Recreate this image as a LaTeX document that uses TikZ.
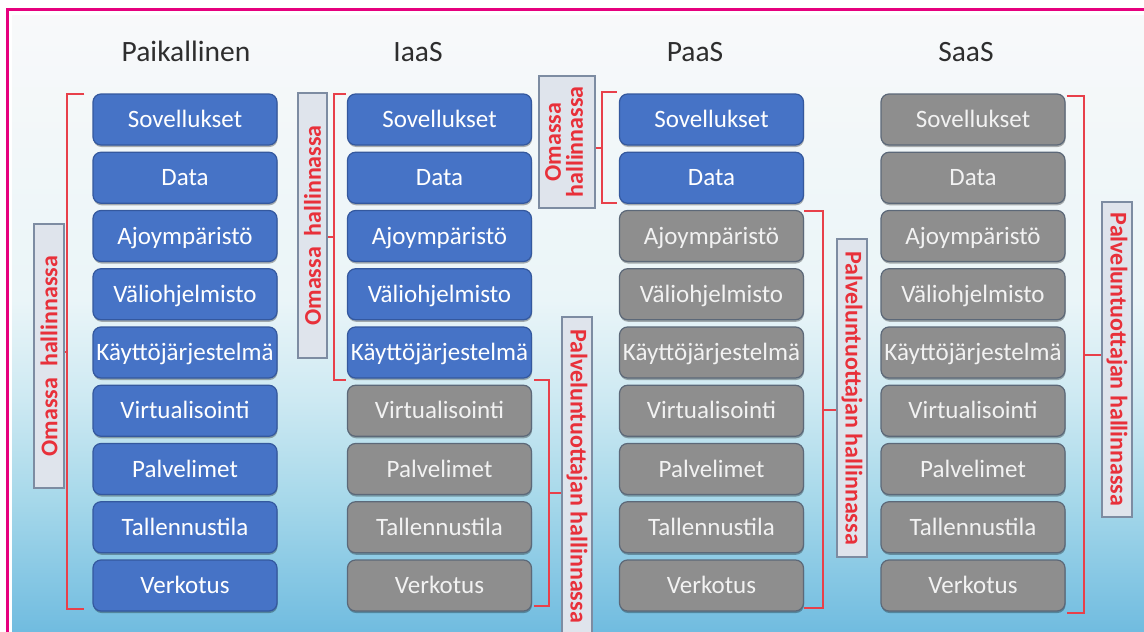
\documentclass[tikz,border=0pt]{standalone}
\usepackage{fontspec}
\setmainfont{Carlito}
\usetikzlibrary{calc,shadows}
\definecolor{boxblue}{HTML}{4673C6}
\definecolor{boxblueedge}{HTML}{34589E}
\definecolor{boxgray}{HTML}{8E8E8E}
\definecolor{boxgrayedge}{HTML}{5C6878}
\definecolor{boxgraytext}{HTML}{F2F2F2}
\definecolor{lblfill}{HTML}{DFE4EC}
\definecolor{lbledge}{HTML}{7D8CA2}
\definecolor{lblred}{HTML}{E8303A}
\definecolor{brkred}{HTML}{E8404A}
\definecolor{titlegray}{HTML}{2E2E2E}
\definecolor{framemag}{HTML}{E6007E}
\definecolor{bgA}{HTML}{6DBADF}
\definecolor{bgB}{HTML}{A6D8EA}
\definecolor{bgC}{HTML}{CDE9F2}
\definecolor{bgD}{HTML}{EAF5F8}
\definecolor{bgE}{HTML}{F8F9FA}
\tikzset{
  cbox/.style={rounded corners=8pt, minimum width=184pt, minimum height=51pt,
    inner sep=0pt, font=\fontsize{25}{28}\selectfont, text height=17pt, text depth=1pt,
    line width=1.2pt, drop shadow={shadow xshift=0.5pt, shadow yshift=-2pt, fill=black, opacity=0.3}},
  own/.style={cbox, fill=boxblue, draw=boxblueedge, text=white},
  prov/.style={cbox, fill=boxgray, draw=boxgrayedge, text=boxgraytext},
  colb/.code={\ifnum#1<5 \tikzset{own}\else\tikzset{prov}\fi},
  colc/.code={\ifnum#1<2 \tikzset{own}\else\tikzset{prov}\fi},
  lbl/.style={fill=lblfill, draw=lbledge, line width=1.5pt, inner sep=0pt, text=lblred,
    font=\bfseries\fontsize{24}{24}\selectfont},
  brk/.style={draw=brkred, line width=2pt},
  ttl/.style={font=\fontsize{29.5}{31}\selectfont, text=titlegray, anchor=base},
}
\begin{document}
\begin{tikzpicture}[x=1pt,y=-1pt]
\useasboundingbox (0,0) rectangle (1144,632);
\fill[white] (-2,-2) rectangle (1150,640);
% background gradient
\shade[top color=bgE, bottom color=bgD] (12,15) rectangle (1150,300.5);
\shade[top color=bgD, bottom color=bgC] (12,300) rectangle (1150,400.5);
\shade[top color=bgC, bottom color=bgB] (12,400) rectangle (1150,500.5);
\shade[top color=bgB, bottom color=bgA] (12,500) rectangle (1150,640);
% frame
\draw[framemag, line width=3pt] (7,645) -- (7,9) -- (1155,9);

% titles
\node[ttl] (t1) at (186,61) {Paikallinen};
\node[ttl] (t2) at (418,61) {IaaS};
\node[ttl] (t3) at (695,61) {PaaS};
\node[ttl] (t4) at (966,61) {SaaS};

% boxes
\foreach \t [count=\i from 0] in {Sovellukset,Data,Ajoympäristö,Väliohjelmisto,Käyttöjärjestelmä,Virtualisointi,Palvelimet,Tallennustila,Verkotus}{
  \node[own] (a\i) at (185,{119.5+58.25*\i}) {\t};
  \node[colb=\i] (b\i) at (439.5,{119.5+58.25*\i}) {\t};
  \node[colc=\i] (c\i) at (711.5,{119.5+58.25*\i}) {\t};
  \node[prov] (d\i) at (973,{119.5+58.25*\i}) {\t};
}

% label boxes
\node[lbl, minimum width=30pt, minimum height=264pt] (L1) at (49,356) {\rotatebox{90}{Omassa\ \ hallinnassa}};
\node[lbl, minimum width=29pt, minimum height=265pt] (L2) at (312.5,225.5) {\rotatebox{90}{Omassa\ \ hallinnassa}};
\node[lbl, minimum width=56pt, minimum height=132pt] (L3) at (567,142) {\rotatebox{90}{\begin{tabular}{@{}c@{}}Omassa\\[-2pt]hallinnassa\end{tabular}}};
\node[lbl, minimum width=30pt, minimum height=318pt] (L4) at (577,476) {\rotatebox{-90}{Palveluntuottajan hallinnassa}};
\node[lbl, minimum width=30pt, minimum height=318pt] (L5) at (852,398) {\rotatebox{-90}{Palveluntuottajan hallinnassa}};
\node[lbl, minimum width=30pt, minimum height=315pt] (L6) at (1117,359.5) {\rotatebox{-90}{Palveluntuottajan hallinnassa}};

% brackets
% Paikallinen
\coordinate (k1t) at ($(a0.north west)+(-25,1)$);
\coordinate (k1b) at ($(a8.south west)+(-25,-3)$);
\draw[brk] ($(a0.north west)+(-8,1)$) -- (k1t) -- (k1b) -- ($(a8.south west)+(-8,-3)$);
\coordinate (m1) at ($(k1t)!0.5!(k1b)$);
\draw[brk] (m1) -- (m1 -| L1.east);
% IaaS left
\coordinate (k2t) at ($(b0.north west)+(-13,1)$);
\coordinate (k2b) at ($(b4.south west)+(-13,1)$);
\draw[brk] ($(b0.north west)+(-1,1)$) -- (k2t) -- (k2b) -- ($(b4.south west)+(-1,1)$);
\coordinate (m2) at ($(k2t)!0.5!(k2b)$);
\draw[brk] (m2) -- (m2 -| L2.east);
% PaaS left
\coordinate (k3t) at ($(c0.north west)+(-17,-1)$);
\coordinate (k3b) at ($(c1.south west)+(-17,-1)$);
\draw[brk] ($(c0.north west)+(-2,-1)$) -- (k3t) -- (k3b) -- ($(c1.south west)+(-2,-1)$);
\coordinate (m3) at ($(k3t)!0.5!(k3b)$);
\draw[brk] (m3) -- (m3 -| L3.east);
% IaaS right
\coordinate (k4t) at ($(b5.north east)+(17,-5)$);
\coordinate (k4b) at ($(b8.south east)+(17,-6)$);
\draw[brk] ($(b5.north east)+(2,-5)$) -- (k4t) -- (k4b) -- ($(b8.south east)+(2,-6)$);
\coordinate (m4) at ($(k4t)!0.5!(k4b)$);
\draw[brk] (m4) -- (m4 -| L4.west);
% PaaS right
\coordinate (k5t) at ($(c2.north east)+(19,1.5)$);
\coordinate (k5b) at ($(c8.south east)+(19,-4)$);
\draw[brk] ($(c2.north east)+(0,1.5)$) -- (k5t) -- (k5b) -- ($(c8.south east)+(0,-4)$);
\coordinate (m5) at ($(k5t)!0.5!(k5b)$);
\draw[brk] (m5) -- (m5 -| L5.west);
% SaaS right
\coordinate (k6t) at ($(d0.north east)+(18,3)$);
\coordinate (k6b) at ($(d8.south east)+(18,1)$);
\draw[brk] ($(d0.north east)+(1,3)$) -- (k6t) -- (k6b) -- ($(d8.south east)+(1,1)$);
\coordinate (m6) at ($(k6t)!0.5!(k6b)$);
\draw[brk] (m6) -- (m6 -| L6.west);
\end{tikzpicture}
\end{document}
